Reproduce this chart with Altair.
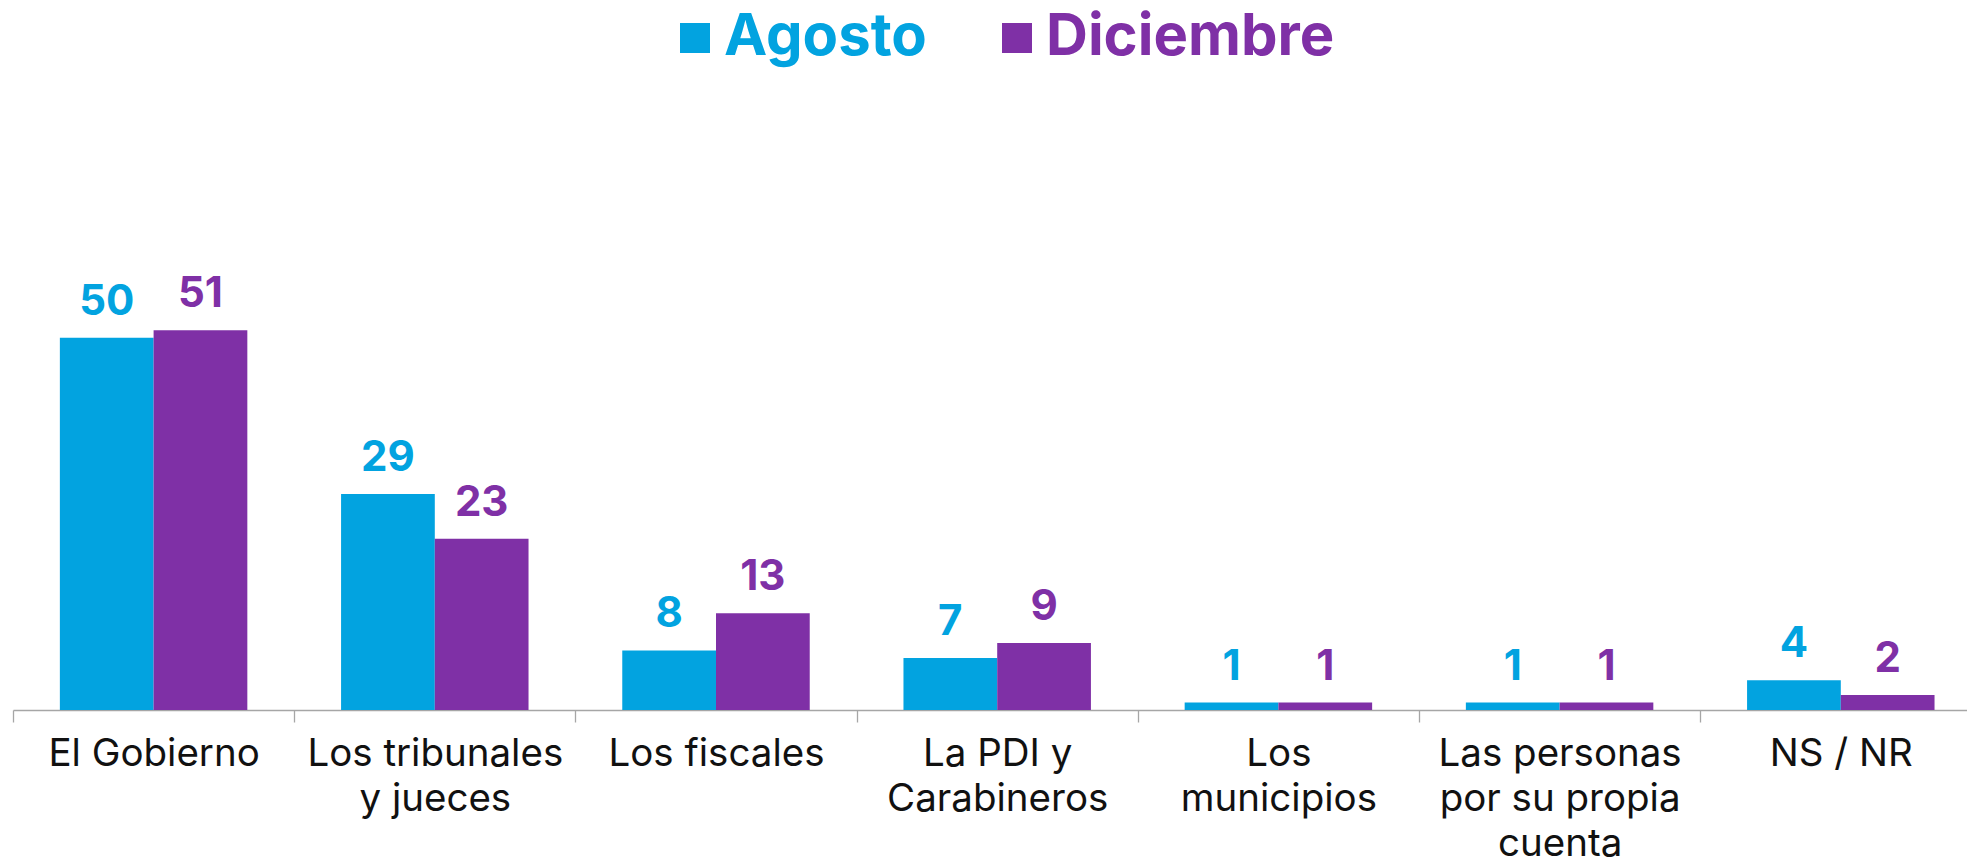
import altair as alt
import pandas as pd

categories = ["El Gobierno", "Los tribunales y jueces", "Los fiscales",
              "La PDI y Carabineros", "Los municipios",
              "Las personas por su propia cuenta", "NS / NR"]
axis_lines = [["El Gobierno"], ["Los tribunales", "y jueces"], ["Los fiscales"],
              ["La PDI y", "Carabineros"], ["Los", "municipios"],
              ["Las personas", "por su propia", "cuenta"], ["NS / NR"]]
series = ["Agosto", "Diciembre"]
agosto = [50, 29, 8, 7, 1, 1, 4]
diciembre = [51, 23, 13, 9, 1, 1, 2]
colors = ["#02A3E0", "#7F30A6"]

rows = []
for c, a, d in zip(categories, agosto, diciembre):
    rows.append({"category": c, "series": "Agosto", "value": a})
    rows.append({"category": c, "series": "Diciembre", "value": d})
df = pd.DataFrame(rows)

# label expression: category -> list of lines
expr = "[datum.label]"
for c, lines in reversed(list(zip(categories, axis_lines))):
    arr = "[" + ",".join("'" + l + "'" for l in lines) + "]"
    expr = f"datum.label == '{c}' ? {arr} : ({expr})"

label_color_expr = f"datum.label == '{series[0]}' ? '{colors[0]}' : '{colors[1]}'"

base = alt.Chart(df).encode(
    x=alt.X("category:N", sort=categories, title=None,
            scale=alt.Scale(range=[0, 1968.4], paddingInner=0, paddingOuter=0),
            axis=alt.Axis(tickBand="extent", domainColor="#A6A6A6", domainWidth=1.3,
                          tickColor="#A6A6A6", tickSize=12, tickWidth=1.3,
                          labelFont="Inter", labelFontSize=38.5, labelColor="#111111",
                          labelAngle=0, labelPadding=13, labelLineHeight=45,
                          labelBaseline="top", labelLimit=600, labelOverlap=False,
                          labelExpr=expr)),
    xOffset=alt.XOffset("series:N", sort=series,
                        scale=alt.Scale(paddingInner=0, paddingOuter=0.5)),
    y=alt.Y("value:Q", scale=alt.Scale(domain=[0, 90]), axis=None),
    color=alt.Color("series:N", sort=series,
                    scale=alt.Scale(domain=series, range=colors),
                    legend=alt.Legend(title=None, orient="none", legendX=653, legendY=-31,
                                      direction="horizontal", symbolType="square",
                                      symbolSize=900, symbolStrokeWidth=0, symbolOpacity=1,
                                      labelFont="Inter", labelFontSize=58,
                                      labelFontWeight="bold",
                                      labelColor={"expr": label_color_expr},
                                      labelOffset=0, columnPadding=61, padding=0,
                                      labelLimit=0)),
)

bars = base.mark_bar()
labels = base.mark_text(dy=-23, baseline="alphabetic", font="Inter", fontSize=42,
                        fontWeight="bold").encode(text="value:Q")

chart = alt.layer(bars, labels).properties(
    width=1954, height=670,
    autosize=alt.AutoSizeParams(type="none"),
    padding={"left": 13, "top": 40, "right": 0, "bottom": 156},
).configure_view(stroke=None)

chart.save("out.html", embed_options={"renderer": "svg", "actions": False})
